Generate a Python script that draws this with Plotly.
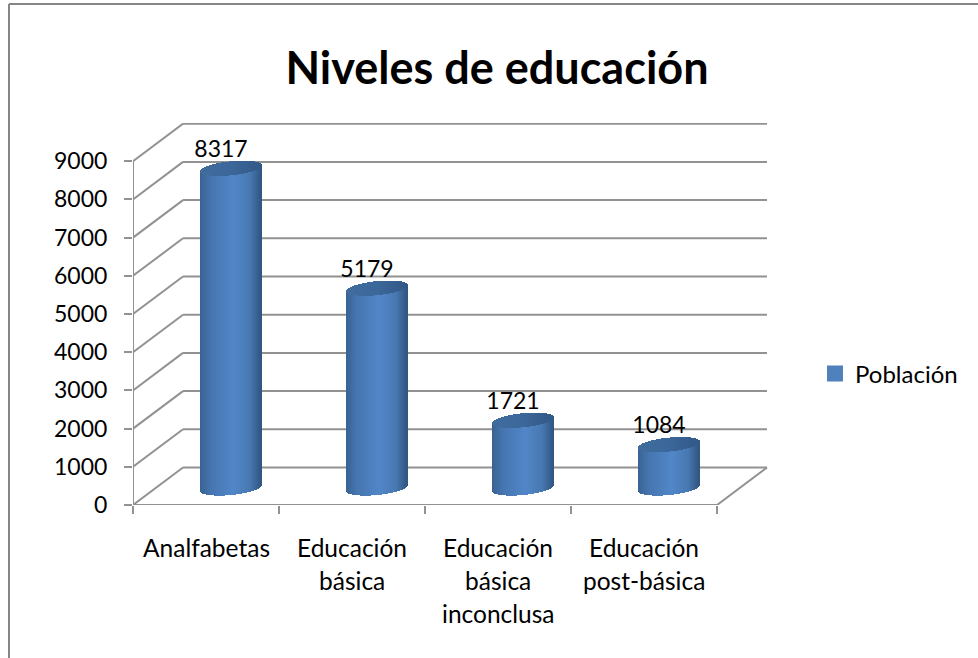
import math
import plotly.graph_objects as go

# ---- data ----
categorias = ["Analfabetas", "Educación<br>básica", "Educación<br>básica<br>inconclusa", "Educación<br>post-básica"]
poblacion = [8317, 5179, 1721, 1084]
y_ticks = [0, 1000, 2000, 3000, 4000, 5000, 6000, 7000, 8000, 9000]
titulo = "Niveles de educación"
serie = "Población"

FONT = "Lato"
GRIS = "#929292"

# plot area in pixels, so data units can be converted
L, R, T, B = 133, 768, 123, 505
PX_CAT = 146.0            # px per category
PX_VAL = (B - T) / 10000  # px per unit of value
X_MAX = (R - L) / PX_CAT


def dx(px):
    return px / PX_CAT


def dy(px):
    return px / PX_VAL


PROF_X, PROF_Y = dx(50), dy(37.5)   # depth of the 3d box
N = 61                              # strips per cylinder
HALF = dx(30.5)
BASE, TOP = dy(17), dy(19)
TILT, SEMI = dy(3), dy(7)


def mezcla(stops, t):
    for (t0, c0), (t1, c1) in zip(stops, stops[1:]):
        if t <= t1:
            f = (t - t0) / (t1 - t0)
            rgb = [round(a + (b - a) * f) for a, b in zip(c0, c1)]
            return "rgb(%d,%d,%d)" % tuple(rgb)
    return "rgb(%d,%d,%d)" % stops[-1][1]


BODY = [(0, (56, 98, 146)), (0.18, (70, 118, 176)), (0.55, (81, 134, 200)), (0.82, (72, 120, 176)), (1, (48, 86, 130))]
CAP = [(0, (64, 108, 158)), (0.5, (60, 103, 154)), (1, (50, 88, 134))]

fig = go.Figure()

# back wall and diagonals go below the bars, so they are shapes
formas = []
for v in y_ticks:
    formas.append(dict(type="line", xref="x", yref="y", layer="below", x0=PROF_X, x1=4 + PROF_X,
                       y0=v + PROF_Y, y1=v + PROF_Y, line=dict(color=GRIS, width=2)))
    formas.append(dict(type="line", xref="x", yref="y", layer="below", x0=0, x1=PROF_X,
                       y0=v, y1=v + PROF_Y, line=dict(color=GRIS, width=2)))
formas.append(dict(type="line", xref="x", yref="y", layer="below", x0=4, x1=4 + PROF_X,
                   y0=0, y1=PROF_Y, line=dict(color=GRIS, width=2)))
# chart border, only top and left show in the picture
formas.append(dict(type="line", xref="paper", yref="paper", x0=(9 - L) / (R - L), x1=(978 - L) / (R - L),
                   y0=(B - 4) / (B - T), y1=(B - 4) / (B - T), line=dict(color="#868686", width=2)))
formas.append(dict(type="line", xref="paper", yref="paper", x0=(9 - L) / (R - L), x1=(9 - L) / (R - L),
                   y0=(B - 4) / (B - T), y1=(B - 658) / (B - T), line=dict(color="#868686", width=2)))

# cylinders, each one built from thin bars
for i, valor in enumerate(poblacion):
    cx = i + 0.5 + PROF_X / 2
    xs, bases, alturas, colores, c_bases, c_alturas, c_colores = [], [], [], [], [], [], []
    for k in range(N):
        t = -1 + 2 * (k + 0.5) / N
        curva = math.sqrt(1 - t * t)
        xs.append(cx + t * HALF)
        abajo = BASE + TILT * t - SEMI * curva
        borde = valor + TOP + TILT * t - SEMI * curva
        arriba = valor + TOP + TILT * t + SEMI * curva
        bases.append(abajo)
        alturas.append(borde - abajo)
        colores.append(mezcla(BODY, (t + 1) / 2))
        c_bases.append(borde)
        c_alturas.append(arriba - borde)
        c_colores.append(mezcla(CAP, (t + 1) / 2))
    fig.add_trace(go.Bar(x=xs, y=alturas, base=bases, width=dx(1.2), showlegend=False,
                         marker=dict(color=colores, line=dict(width=0))))
    fig.add_trace(go.Bar(x=xs, y=c_alturas, base=c_bases, width=dx(1.2), showlegend=False,
                         marker=dict(color=c_colores, line=dict(width=0))))

# front axis lines
fig.add_trace(go.Scatter(x=[0, 0, None, 0, 4], y=[0, y_ticks[-1], None, 0, 0], mode="lines", cliponaxis=False,
                         line=dict(color=GRIS, width=2), showlegend=False))

# value labels
fig.add_trace(go.Scatter(x=[i + 0.5 + PROF_X / 2 - dx(10) for i in range(len(poblacion))],
                         y=[v + TOP + dy(17) for v in poblacion],
                         text=[str(v) for v in poblacion], mode="text", textposition="middle center",
                         textfont=dict(family=FONT, size=23, color="#000000"), cliponaxis=False,
                         showlegend=False))

# only here to get the legend entry
fig.add_trace(go.Scatter(x=[None], y=[None], mode="markers", name=serie,
                         marker=dict(symbol="square", size=18, color="#4f81bd")))

# category labels, line by line because of the wide line spacing
notas = []
for i, cat in enumerate(categorias):
    for j, linea in enumerate(cat.split("<br>")):
        notas.append(dict(x=i + 0.5, xref="x", y=(B - (547 + 33 * j)) / (B - T), yref="paper", text=linea,
                          showarrow=False, xanchor="center", yanchor="middle",
                          font=dict(family=FONT, size=24.5, color="#000000")))

fig.update_layout(
    width=978, height=658,
    margin=dict(l=L, r=978 - R, t=T, b=658 - B, pad=0),
    paper_bgcolor="white", plot_bgcolor="white",
    barmode="overlay", bargap=0,
    shapes=formas, annotations=notas,
    title=dict(text="<b>" + titulo + "</b>", x=497 / 978, xanchor="center", y=1 - 68 / 658, yanchor="middle",
               font=dict(family=FONT, size=45, color="#000000")),
    legend=dict(x=(815 - L) / (R - L), xanchor="left", y=(B - 374) / (B - T), yanchor="middle",
                font=dict(family=FONT, size=24, color="#000000"), itemsizing="trace", bgcolor="rgba(0,0,0,0)"),
    xaxis=dict(range=[0, X_MAX], showgrid=False, zeroline=False, showline=False, showticklabels=False,
               ticks="", minor=dict(tickmode="array", tickvals=[0, 1, 2, 3, 4], ticks="outside", ticklen=8,
                                    tickcolor=GRIS, tickwidth=2, showgrid=False)),
    yaxis=dict(range=[0, 10000], tickmode="array", tickvals=y_ticks, showgrid=False, zeroline=False, showline=False,
               ticks="outside", ticklen=8, tickcolor=GRIS, tickwidth=2, ticklabelstandoff=12,
               tickfont=dict(family=FONT, size=23, color="#000000")),
)

fig.write_html("out.html", config={"displayModeBar": False}, post_script="document.body.style.margin='0';")
